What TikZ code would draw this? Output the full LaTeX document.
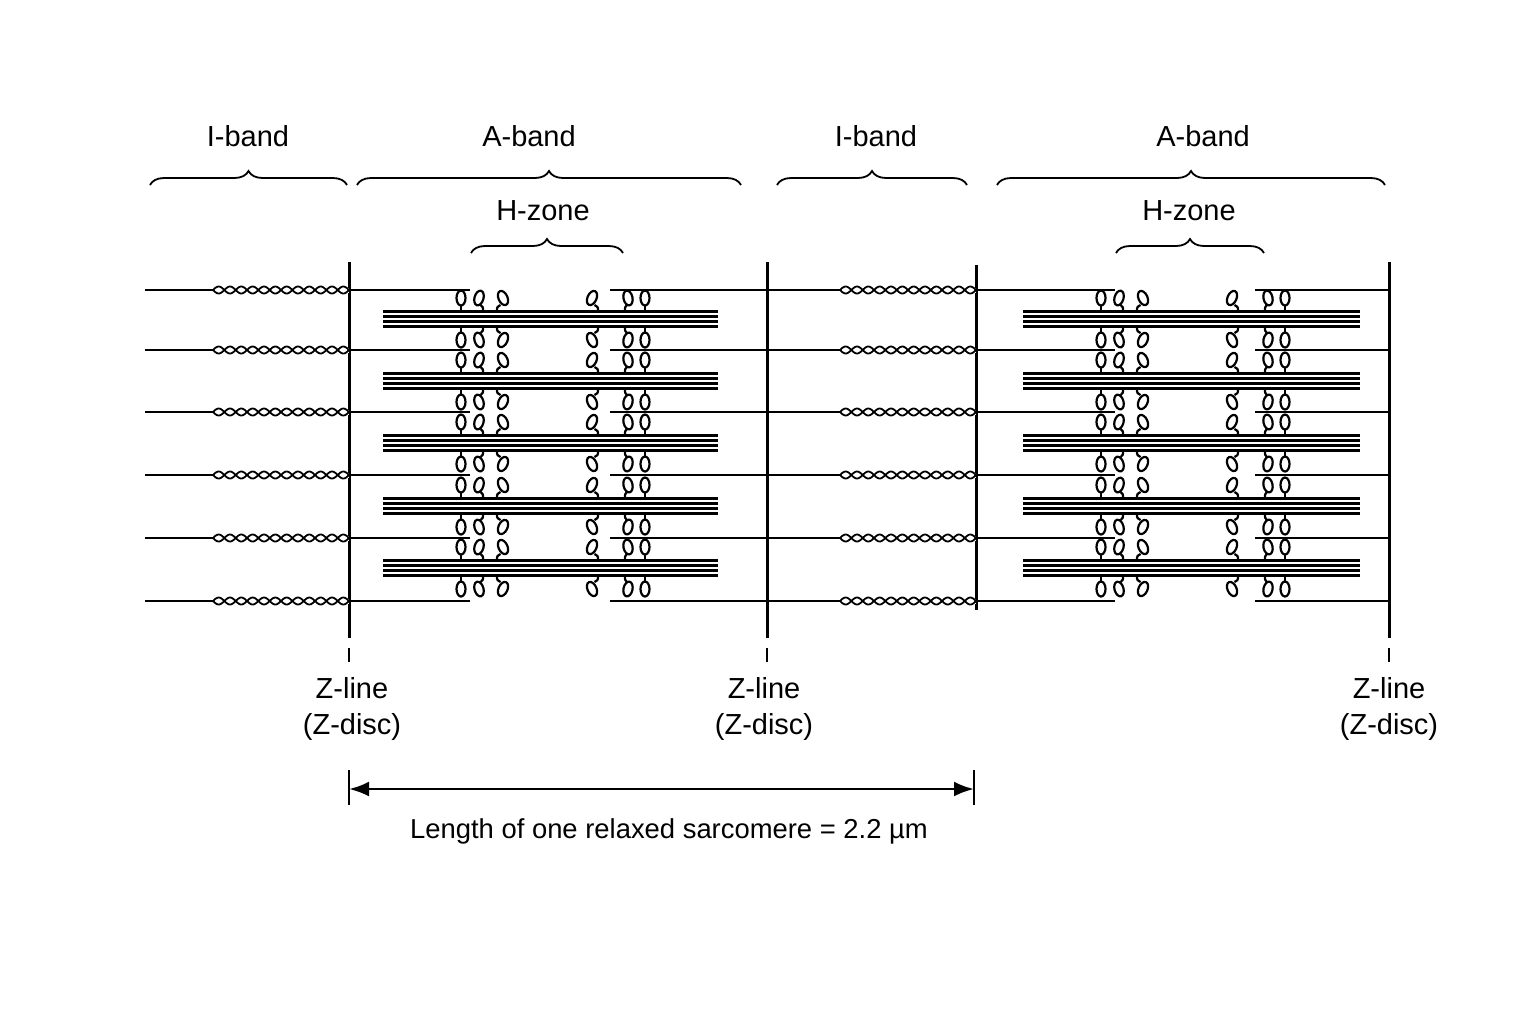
\documentclass[tikz,border=0pt]{standalone}
\usepackage{fontspec}
\setmainfont{Liberation Sans}
\usetikzlibrary{decorations.pathreplacing,arrows.meta}
\begin{document}
\begin{tikzpicture}[x=0.5pt,y=-0.5pt,
  fil/.style={line width=1.3pt},
  zl/.style={line width=1.5pt},
  br/.style={decorate,decoration={brace,amplitude=7pt},line width=0.9pt},
  lab/.style={font=\fontsize{14.5}{17}\selectfont},
  hd/.style={line width=1.1pt}]
\useasboundingbox (0,0) rectangle (1536,1024);
% Z lines
\foreach \n/\x/\a/\b in {z1/349/262/638, z2/767/262/638, z3/976/265/610, z4/1389/262/638}
  \draw[zl] (\x,\a) coordinate(\n) -- (\x,\b);
\foreach \x in {349,767,1389} \draw[line width=0.9pt] (\x,648) -- (\x,662);
% actin rows
\foreach \rr in {290,350,412,475,538,601}{
  \draw[fil] (145,\rr) -- (349,\rr);
  \draw[fil] (349,\rr) -- (470,\rr);
  \draw[fil] (610,\rr) -- (976,\rr);
  \draw[fil] (976,\rr) -- (1115,\rr);
  \draw[fil] (1255,\rr) -- (1389,\rr);
  \foreach \s/\e in {213/349, 840/976}{
    \draw[white,line width=2.5pt] (\s,\rr) -- (\e,\rr);
    \draw[line width=0.9pt,variable=\t,domain=0:136,samples=130] plot ({\s+\t},{\rr+3.5*sin(\t*15.88)});
    \draw[line width=0.9pt,variable=\t,domain=0:136,samples=130] plot ({\s+\t},{\rr-3.5*sin(\t*15.88)});
  }
}
% myosin filaments with heads
\foreach \rr in {319,381,443,506,568}{
  \foreach \l/\r/\o in {383/718/0, 1023/1360/640}{
    \foreach \k in {-7.5,-2.5,2.5,7.5} \draw[line width=1.1pt] (\l,\rr+\k) -- (\r,\rr+\k);
    \foreach \hx/\dx in {461/0,483/-4,497/6,598/-6,625/3,645/0}{
      \foreach \sg in {-1,1}{
        \draw[hd] (\hx+\o,\rr+\sg*8) .. controls (\hx+\o,\rr+\sg*12) .. (\hx+\o+\dx*0.6,\rr+\sg*14);
        \draw[hd,rotate around={-\sg*\dx*4:(\hx+\o+\dx,\rr+\sg*21)}] (\hx+\o+\dx,\rr+\sg*21) ellipse (4.5 and 7.5);
      }
    }
  }
}
% braces
\draw[br] (150,185) -- (347,185);
\draw[br] (357,185) -- (741,185);
\draw[br] (777,185) -- (967,185);
\draw[br] (997,185) -- (1385,185);
\draw[br] (471,253) -- (623,253);
\draw[br] (1116,253) -- (1264,253);
\node[lab] (l1) at (248,136) {I-band};
\node[lab] (l2) at (529,136) {A-band};
\node[lab] (l3) at (876,136) {I-band};
\node[lab] (l4) at (1203,136) {A-band};
\node[lab] (h1) at (543,211) {H-zone};
\node[lab] (h2) at (1189,211) {H-zone};
% Z labels
\foreach \x/\n in {352/t1,764/t2,1389/t3}
  \node[lab,align=center,anchor=north] (\n) at (\x,670) {Z-line\\[1pt](Z-disc)};
% sarcomere length
\draw[line width=0.9pt] (349,770) -- (349,805);
\draw[line width=0.9pt] (974,770) -- (974,805);
\coordinate (a1) at (349,789); \coordinate (a2) at (974,789);
\draw[line width=1.4pt,{Latex[length=10pt]}-{Latex[length=10pt]}] (a1) -- (a2);
\node[font=\fontsize{13.7}{16}\selectfont] (len) at (669,831) {Length of one relaxed sarcomere = 2.2 µm};
\end{tikzpicture}
\end{document}
